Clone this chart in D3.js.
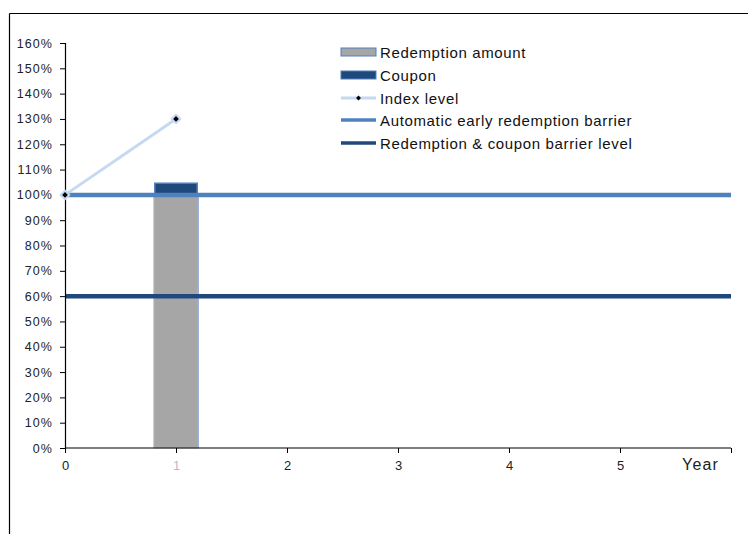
<!DOCTYPE html>
<html><head><meta charset="utf-8">
<script src="https://cdn.jsdelivr.net/npm/d3@7/dist/d3.min.js"></script>
<style>body{margin:0;background:#fff}svg{display:block;font-family:"Liberation Sans",Arial,sans-serif}</style>
</head><body><svg id="c" width="751" height="534"></svg>
<script>
const yTicks = [0,10,20,30,40,50,60,70,80,90,100,110,120,130,140,150,160];
const xTicks = [0,1,2,3,4,5];
const barYears = [1];
const redemption = [100];
const coupon = [5];
const indexYears = [0,1];
const indexLevel = [100,130];
const autocallBarrier = 100;
const couponBarrier = 60;
const legendLabels = ["Redemption amount","Coupon","Index level","Automatic early redemption barrier","Redemption & coupon barrier level"];

const svg = d3.select("#c");
const x = d3.scaleLinear().domain([0,6]).range([65,731]);
const y = d3.scaleLinear().domain([0,160]).range([448,43]);

// outer frame
svg.append("line").attr("x1",9.5).attr("x2",748).attr("y1",13.5).attr("y2",13.5).attr("stroke","#000").attr("stroke-width",1.2);
svg.append("line").attr("x1",9.5).attr("x2",9.5).attr("y1",13.5).attr("y2",534).attr("stroke","#000").attr("stroke-width",1.2);

// bars
const bw = x(0.4)-x(0);
svg.selectAll("rect.red").data(barYears).enter().append("rect")
  .attr("x",d=>x(d)-bw/2).attr("width",bw)
  .attr("y",(d,i)=>y(redemption[i])).attr("height",(d,i)=>y(0)-y(redemption[i]))
  .attr("fill","#a6a6a6").attr("stroke","#bfbfbf").attr("stroke-width",1);
svg.selectAll("line.redr").data(barYears).enter().append("line")
  .attr("x1",d=>x(d)+bw/2).attr("x2",d=>x(d)+bw/2)
  .attr("y1",(d,i)=>y(redemption[i])).attr("y2",y(0))
  .attr("stroke","#8eaadb").attr("stroke-width",1.2);
svg.selectAll("rect.cp").data(barYears).enter().append("rect")
  .attr("x",d=>x(d)-bw/2+1).attr("width",bw-2)
  .attr("y",(d,i)=>y(redemption[i]+coupon[i])+1).attr("height",(d,i)=>y(redemption[i])-y(redemption[i]+coupon[i])-1)
  .attr("fill","#1f497d").attr("stroke","#4f81bd").attr("stroke-width",1.5);

// barrier lines
svg.append("line").attr("x1",x(0)).attr("x2",x(6)).attr("y1",y(autocallBarrier)).attr("y2",y(autocallBarrier))
  .attr("stroke","#4f81bd").attr("stroke-width",4.5);
svg.append("line").attr("x1",x(0)).attr("x2",x(6)).attr("y1",y(couponBarrier)).attr("y2",y(couponBarrier))
  .attr("stroke","#1f497d").attr("stroke-width",4.5);

// axes
const yAxis = svg.append("g").attr("transform","translate(65,0)")
  .call(d3.axisLeft(y).tickValues(yTicks).tickFormat(d=>d+"%").tickSize(5).tickPadding(7));
const xAxis = svg.append("g").attr("transform","translate(0,448)")
  .call(d3.axisBottom(x).tickValues([0,1,2,3,4,5,6]).tickFormat(d=>d<=5?d:"").tickSize(5).tickPadding(8));
[yAxis,xAxis].forEach(g=>{
  g.select(".domain").attr("stroke","#000").attr("stroke-width",1.2);
  g.selectAll(".tick line").attr("stroke","#000");
  g.selectAll("text").attr("fill","#222").attr("font-size",12.5).attr("letter-spacing","1.1px")
    .attr("font-family","Liberation Sans, Arial, sans-serif");
});
xAxis.selectAll("text").attr("letter-spacing","0px").attr("font-size",13);
xAxis.select(".domain").attr("d","M65,0H731");
xAxis.selectAll(".tick text").filter(d=>d===1).attr("fill","#bbb");
svg.append("text").attr("x",682).attr("y",470).attr("font-size",16).attr("letter-spacing","1.2px").attr("fill","#222").text("Year");

// index line
const line = d3.line().x((d,i)=>x(indexYears[i])).y(d=>y(d));
svg.append("path").datum(indexLevel).attr("d",line).attr("fill","none").attr("stroke","#c6d9f1").attr("stroke-width",3);
const diamond = d3.symbol().type(d3.symbolSquare).size(36);
svg.selectAll("path.mk").data(indexLevel).enter().append("path")
  .attr("transform",(d,i)=>`translate(${x(indexYears[i])},${y(d)}) rotate(45)`).attr("d",diamond)
  .attr("fill","#000").attr("stroke","#c6d9f1").attr("stroke-width",2);

// legend
const lg = svg.append("g");
const rowsY = [52,75,98,120,143];
const lx0 = 341, lx1 = 376;
lg.append("rect").attr("x",lx0).attr("y",rowsY[0]-4).attr("width",lx1-lx0).attr("height",8).attr("fill","#a6a6a6").attr("stroke","#4f81bd").attr("stroke-width",1);
lg.append("rect").attr("x",lx0).attr("y",rowsY[1]-4).attr("width",lx1-lx0).attr("height",8).attr("fill","#1f497d").attr("stroke","#4f81bd").attr("stroke-width",1);
lg.append("line").attr("x1",lx0).attr("x2",lx1).attr("y1",rowsY[2]).attr("y2",rowsY[2]).attr("stroke","#c6d9f1").attr("stroke-width",3);
lg.append("path").attr("transform",`translate(${(lx0+lx1)/2},${rowsY[2]}) rotate(45)`).attr("d",d3.symbol().type(d3.symbolSquare).size(12)).attr("fill","#000");
lg.append("line").attr("x1",lx0).attr("x2",lx1).attr("y1",rowsY[3]).attr("y2",rowsY[3]).attr("stroke","#4f81bd").attr("stroke-width",3.5);
lg.append("line").attr("x1",lx0).attr("x2",lx1).attr("y1",rowsY[4]).attr("y2",rowsY[4]).attr("stroke","#1f497d").attr("stroke-width",3.5);
lg.selectAll("text").data(legendLabels).enter().append("text")
  .attr("x",380).attr("y",(d,i)=>rowsY[i]+5.5).attr("font-size",15).attr("letter-spacing","0.65px").attr("fill","#111").text(d=>d);
</script></body></html>
